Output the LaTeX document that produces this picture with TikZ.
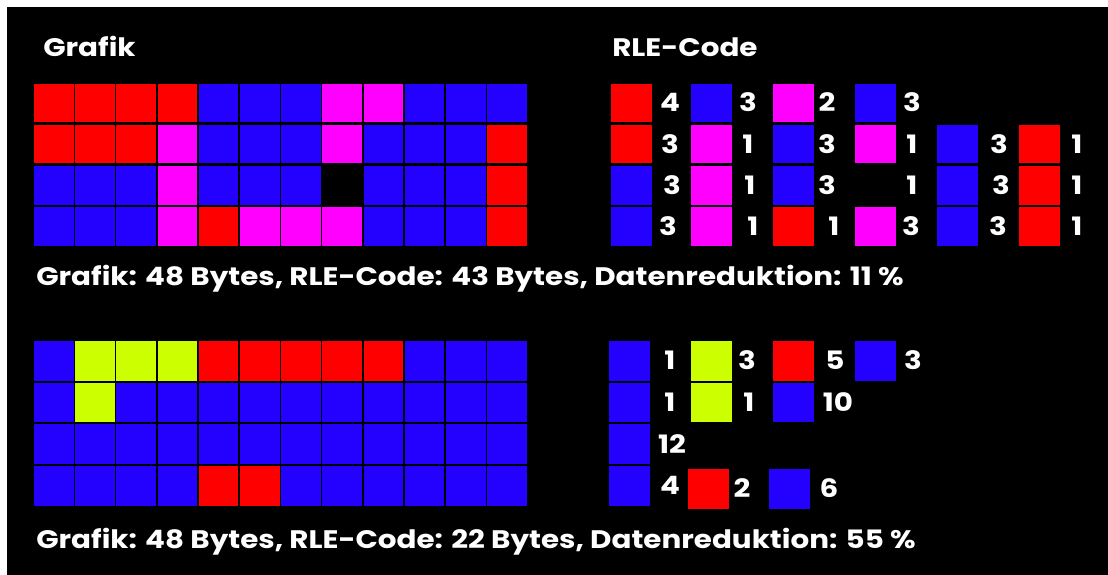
\documentclass[tikz,border=0pt]{standalone}
\usepackage{fontspec}
\setmainfont{Poppins}[FakeStretch=1.16]
\definecolor{cR}{HTML}{FF0000}
\definecolor{cB}{HTML}{2400FF}
\definecolor{cM}{HTML}{FF00FF}
\definecolor{cY}{HTML}{CCFF00}
\definecolor{cK}{HTML}{000000}
\begin{document}
\begin{tikzpicture}[x=0.75pt,y=-0.75pt,
  txt/.style={text=white,font=\fontsize{19}{22}\selectfont\bfseries,inner sep=0pt,anchor=base west},
  num/.style={text=white,font=\fontsize{19}{22}\selectfont\bfseries,inner sep=0pt,anchor=base}]
\useasboundingbox (0,0) rectangle (1108,575);
\fill[white] (0,0) rectangle (1108,575);
\fill[black] (7,7) rectangle (1108,575);
% headers
\node[txt] (h1) at (43,56.7) {Grafik};
\node[txt] (h2) at (612,56.7) {RLE-Code};
% top grid
\foreach \row [count=\r from 0] in {{R,R,R,R,B,B,B,M,M,B,B,B},{R,R,R,M,B,B,B,M,B,B,B,R},{B,B,B,M,B,B,B,K,B,B,B,R},{B,B,B,M,R,M,M,M,B,B,B,R}}{
  \foreach \c [count=\i from 0] in \row {
    \fill[c\c] ({34+41.2*\i},{83.5+41.3*\r}) rectangle ++(39.5,38.5);
  }
}
% bottom grid
\foreach \row [count=\r from 0] in {{B,Y,Y,Y,R,R,R,R,R,B,B,B},{B,Y,B,B,B,B,B,B,B,B,B,B},{B,B,B,B,B,B,B,B,B,B,B,B},{B,B,B,B,R,R,B,B,B,B,B,B}}{
  \foreach \c [count=\i from 0] in \row {
    \fill[c\c] ({34+41.2*\i},{341+41.7*\r}) rectangle ++(39.5,39.5);
  }
}
% top RLE code: x, row, colour, count, count x
\foreach \x/\r/\c/\n/\nx in {
  611/0/R/4/670, 691/0/B/3/748, 773/0/M/2/827, 855/0/B/3/912,
  611/1/R/3/670, 691/1/M/1/748, 773/1/B/3/827, 855/1/M/1/912, 937/1/B/3/999, 1019/1/R/1/1077,
  611/2/B/3/672, 691/2/M/1/750, 773/2/B/3/827, 855/2/K/1/912, 937/2/B/3/1001, 1019/2/R/1/1077,
  611/3/B/3/668, 691/3/M/1/753, 773/3/R/1/834, 855/3/M/3/911, 937/3/B/3/998, 1019/3/R/1/1077}{
  \fill[c\c] (\x,{83.5+41.3*\r}) rectangle ++(41,38.5);
  \node[num] (t-\r-\x) at (\nx,{83.5+41.3*\r+19.25+9}) {\n};
}
% bottom RLE code: x, top y, colour, count, count x
\foreach \x/\y/\c/\n/\nx in {
  609/341/B/1/670, 691/341/Y/3/747, 773/341/R/5/835, 855/341/B/3/913,
  609/382.7/B/1/670, 691/382.7/Y/1/749, 773/382.7/B/10/838,
  609/424.4/B/12/672,
  609/466.1/B/4/670, 688/469/R/2/742, 769/469/B/6/829}{
  \fill[c\c] (\x,\y) rectangle ++(41,39.5);
  \node[num] (b-\x-\n) at (\nx,{\y+19.75+9}) {\n};
}
% statistics
\node[txt] (s1) at (36,285) {Grafik: 48 Bytes, RLE-Code: 43 Bytes, Datenreduktion: 11 \%};
\node[txt] (s2) at (36,548) {Grafik: 48 Bytes, RLE-Code: 22 Bytes, Datenreduktion: 55 \%};
\end{tikzpicture}
\end{document}
